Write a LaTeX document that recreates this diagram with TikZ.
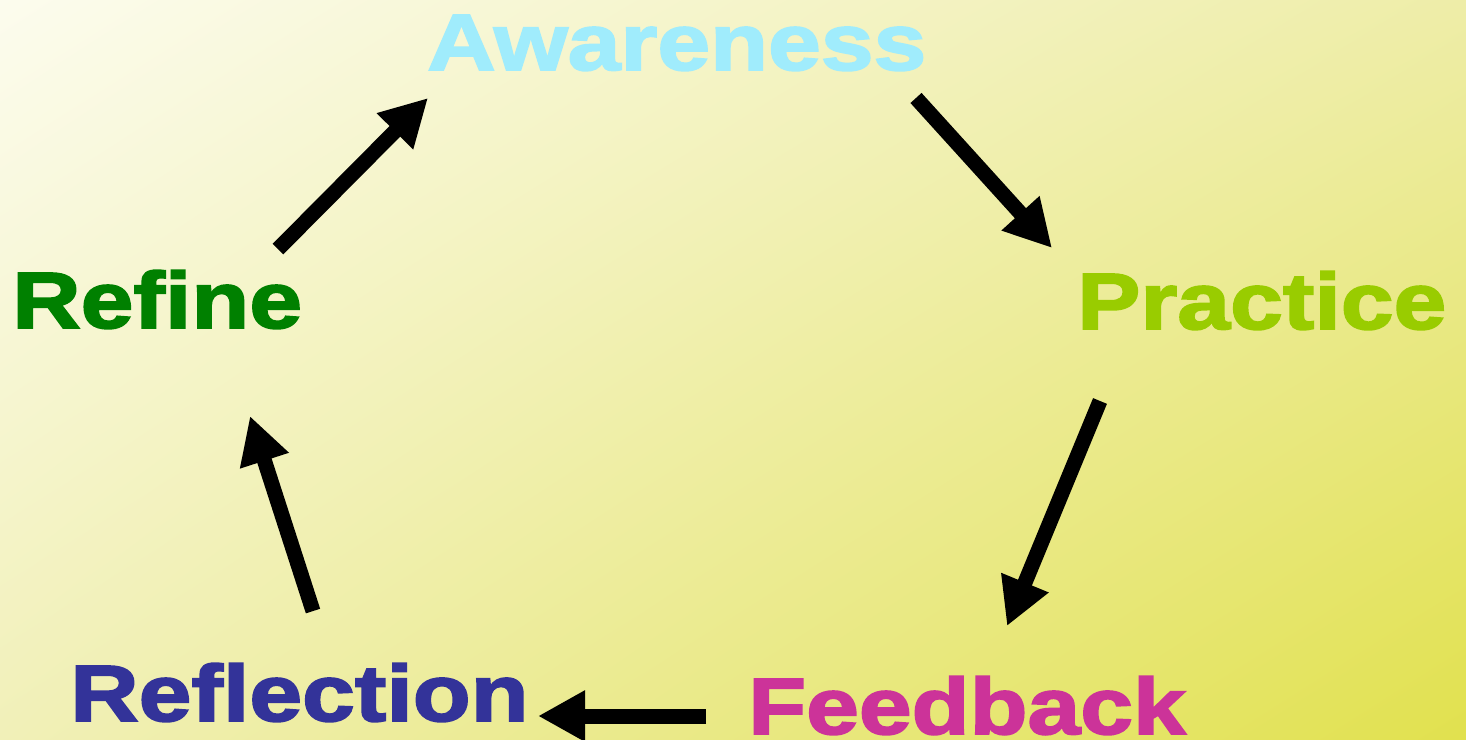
\documentclass[tikz,border=0pt]{standalone}
\usepackage{fontspec}
\usepackage{tikz}
\usepackage{xcolor}
\usetikzlibrary{arrows.meta, shadings}
\newfontfamily\heavyfont{Liberation Sans}[FakeBold=2.4,FakeStretch=1.19]

\begin{document}
\begin{tikzpicture}[x=1bp, y=-1bp,
		word/.style={anchor=base west, inner sep=0pt, font=\heavyfont\bfseries\fontsize{80}{90}\selectfont},
		cyclearrow/.style={line width=15bp, color=ARROW_BLACK, -{Triangle[length=47bp, width=48bp]}}]
				\definecolor{CREAM}{RGB}{252, 252, 238}
				\definecolor{PALE_YELLOW}{RGB}{238, 237, 168}
				\definecolor{SOFT_YELLOW}{RGB}{241, 240, 184}
				\definecolor{DEEP_YELLOW}{RGB}{225, 225, 78}
				\definecolor{SKY}{RGB}{160, 236, 252}
				\definecolor{LIME}{RGB}{153, 204, 0}
				\definecolor{GREEN}{RGB}{0, 128, 0}
				\definecolor{INDIGO}{RGB}{51, 51, 153}
				\definecolor{MAGENTA}{RGB}{204, 51, 153}
				\definecolor{ARROW_BLACK}{RGB}{0, 0, 0}

				% background
				\useasboundingbox (0, 0) rectangle (1466, 739);
				\shade[upper left={CREAM}, upper right={PALE_YELLOW}, lower left={SOFT_YELLOW}, lower right={DEEP_YELLOW}] (0, 0) rectangle (1466, 739);

				% the five steps
				\node[word, text={SKY}] (awareness) at (427, 70) {Awareness};
				\node[word, text={LIME}] (practice) at (1077, 329) {Practice};
				\node[word, text={MAGENTA}] (feedback) at (748, 734) {Feedback};
				\node[word, text={INDIGO}] (reflection) at (70, 721) {Reflection};
				\node[word, text={GREEN}] (refine) at (12, 328) {Refine};

				% the cycle
				\draw[cyclearrow] ([shift={(266, -21)}]refine.north west) -- ([shift={(1, 27)}]awareness.south west);
				\draw[cyclearrow] ([shift={(489, 27)}]awareness.south west) -- ([shift={(-25, -23)}]practice.north west);
				\draw[cyclearrow] ([shift={(23, 71)}]practice.south west) -- ([shift={(259, -50)}]feedback.north west);
				\draw[cyclearrow] ([shift={(-42, -18)}]feedback.base west) -- ([shift={(468, -5)}]reflection.base west);
				\draw[cyclearrow] ([shift={(243, -52)}]reflection.north west) -- ([shift={(238, 87)}]refine.south west);
			\end{tikzpicture}
\end{document}
